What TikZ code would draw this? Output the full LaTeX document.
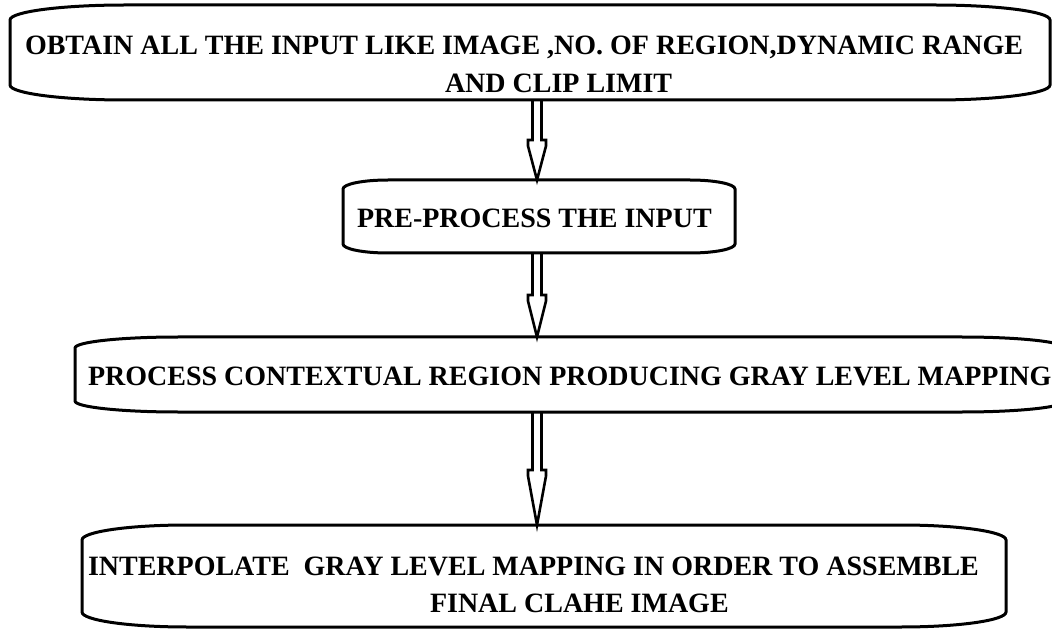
\documentclass[tikz,border=0pt]{standalone}
\usepackage{fontspec}
\setmainfont{Liberation Serif}[BoldFont={Liberation Serif Bold}]
\usetikzlibrary{calc}

\tikzset{
  boxnode/.style={rectangle, inner sep=0pt, outer sep=0pt, draw=none},
  boxline/.style={line width=3pt, black},
  arrowline/.style={line width=2.6pt, black, line join=miter},
  steptext/.style={anchor=base west, inner sep=0pt, outer sep=0pt,
    font=\fontsize{28}{31}\selectfont\bfseries},
}

% Frame with elliptical corners around a node: #1 name, #2 x radius, #3 y radius
\newcommand\ovalframe[3]{%
  \draw[boxline] let \p1=(#1.north west), \p2=(#1.south east) in
    (\x1+#2pt,\y1) -- (\x2-#2pt,\y1)
    arc[start angle=90, end angle=0, x radius=#2pt, y radius=#3pt]
    -- (\x2,\y2+#3pt)
    arc[start angle=0, end angle=-90, x radius=#2pt, y radius=#3pt]
    -- (\x1+#2pt,\y2)
    arc[start angle=270, end angle=180, x radius=#2pt, y radius=#3pt]
    -- (\x1,\y1-#3pt)
    arc[start angle=180, end angle=90, x radius=#2pt, y radius=#3pt]
    -- cycle;}

% Hollow double-stroke arrow: #1 start, #2 tip, #3 head length
\newcommand\hollowarrow[3]{%
  \draw[arrowline] let \p1=(#1), \p2=(#2) in
    (\x1-4.5pt,\y1) -- (\x1-4.5pt,\y2+#3pt) -- (\x1-9pt,\y2+#3pt)
    -- (\x1-9pt,\y2+#3pt-6pt) -- (\x2,\y2)
    -- (\x1+9pt,\y2+#3pt-6pt) -- (\x1+9pt,\y2+#3pt)
    -- (\x1+4.5pt,\y2+#3pt) -- (\x1+4.5pt,\y1);}

\begin{document}
\begin{tikzpicture}[x=1pt, y=1pt]
  \useasboundingbox[fill=white] (0,0) rectangle (1052,630);
  \clip (0,0) rectangle (1052,630);

  % step boxes
  \node[boxnode, minimum width=1040pt, minimum height=95pt] (b1) at (530,577.5) {};
  \node[boxnode, minimum width=392pt,  minimum height=73pt] (b2) at (539,413.5) {};
  \node[boxnode, minimum width=990pt,  minimum height=75pt] (b3) at (570,255.5) {};
  \node[boxnode, minimum width=924pt,  minimum height=102pt] (b4) at (544,54) {};

  \ovalframe{b1}{115}{15}
  \ovalframe{b2}{45}{9}
  \ovalframe{b3}{103}{11}
  \ovalframe{b4}{105}{15}

  % step texts
  \node[steptext] (t1a) at (25,575) {OBTAIN ALL THE INPUT LIKE IMAGE ,NO. OF REGION,DYNAMIC RANGE};
  \node[steptext] (t1b) at (445,537) {AND CLIP LIMIT};
  \node[steptext] (t2) at (357,402) {PRE-PROCESS THE INPUT};
  \node[steptext] (t3) at (88,245) {PROCESS CONTEXTUAL REGION PRODUCING GRAY LEVEL MAPPING};
  \node[steptext] (t4a) at (88,55) {INTERPOLATE\ \ GRAY LEVEL MAPPING IN ORDER TO ASSEMBLE};
  \node[steptext] (t4b) at (430,18) {FINAL CLAHE IMAGE};

  % connectors
  \coordinate (col) at (537,0);
  \hollowarrow{b1.south -| col}{b2.north -| col}{40}
  \hollowarrow{b2.south -| col}{b3.north -| col}{42}
  \hollowarrow{b3.south -| col}{b4.north -| col}{55}
\end{tikzpicture}
\end{document}
